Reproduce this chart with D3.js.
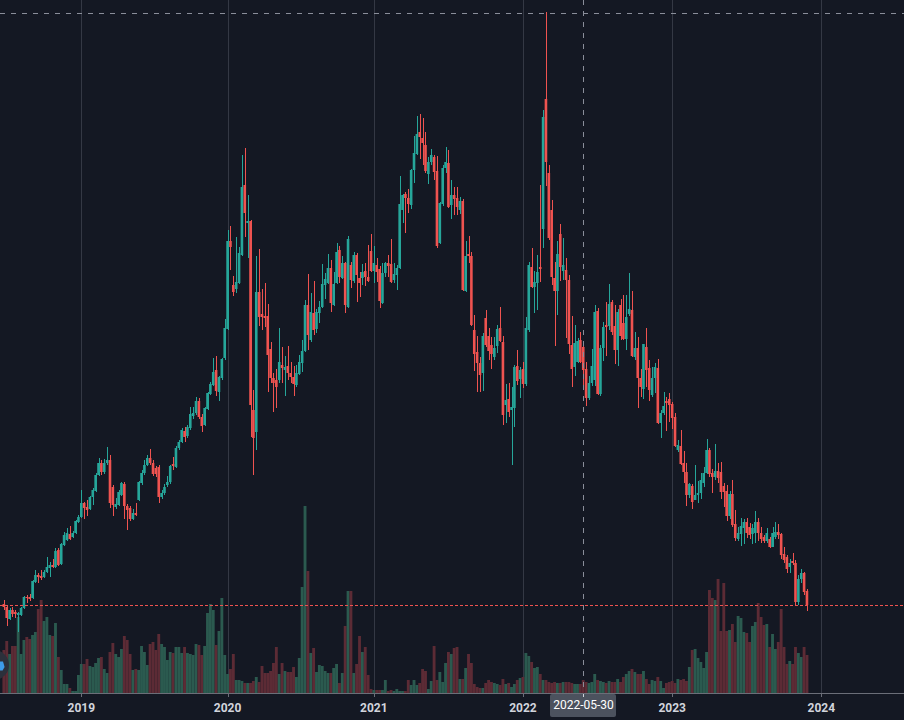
<!DOCTYPE html>
<html><head><meta charset="utf-8">
<script src="https://cdn.jsdelivr.net/npm/d3@7"></script>
<style>html,body{margin:0;padding:0;background:#141823;overflow:hidden}</style>
</head><body><svg id="chart" width="904" height="720"></svg>
<script>
// ---- data (weekly bars) ----
const firstWeek = "2018-07-02";
const closedWeeks = ["2019-02-04", "2020-01-27"];
const yearLabels = ["2019", "2020", "2021", "2022", "2023", "2024"];
const crosshairDate = "2022-05-30";
const crosshairPrice = 687;

const opens = [96,93,81,90,88,85,85,92,103,103,102,118,125,124,123,128,132,135,133,150,136,155,160,166,163,167,178,183,197,193,191,203,209,225,237,228,237,240,213,193,195,205,216,194,192,181,187,200,217,227,235,242,237,232,233,203,207,215,218,236,233,252,258,269,264,272,284,287,299,283,275,291,306,315,330,308,322,342,371,459,415,411,417,445,515,477,479,290,268,408,386,384,384,351,322,320,320,335,330,334,327,323,315,326,337,349,395,360,387,371,387,393,415,417,432,395,417,450,422,437,393,435,419,445,422,422,429,423,449,429,435,431,397,427,437,436,420,425,432,490,506,502,495,530,546,568,562,555,526,538,543,529,457,496,532,537,495,505,502,490,499,409,446,444,370,348,337,327,382,364,355,343,354,372,358,295,301,290,292,334,321,331,316,370,433,413,417,433,471,601,527,490,422,409,466,429,430,420,355,333,338,360,353,331,302,317,320,389,306,352,375,374,398,374,350,395,377,361,386,390,343,352,322,311,353,332,305,322,332,277,287,299,301,296,283,250,254,237,228,205,214,200,205,207,217,227,250,227,223,229,228,214,209,184,206,176,161,166,172,178,173,166,167,178,167,163,159,161,153,163,168,166,146,143,133,139,137,98,121,127,109];
const highs = [100,95,92,93,90,88,93,104,105,106,120,130,127,130,130,143,138,141,152,152,157,168,172,174,169,180,185,210,198,200,204,212,227,242,240,241,253,245,215,202,210,218,218,196,194,191,197,219,230,240,245,251,240,234,235,210,216,224,235,243,254,260,272,273,275,293,293,303,302,286,293,308,318,342,344,324,342,381,470,474,424,463,453,545,552,505,480,310,444,451,411,417,396,358,327,331,372,353,344,354,338,334,335,345,360,400,426,407,419,391,399,436,427,446,440,428,457,454,444,438,464,438,448,447,428,436,437,455,466,454,442,434,437,438,445,461,437,435,524,506,508,511,531,564,584,586,582,568,543,551,545,544,498,535,553,550,520,513,513,503,501,459,464,448,385,364,343,367,390,372,363,363,375,393,364,316,317,313,335,350,333,338,383,438,452,429,445,515,590,688,535,500,438,459,476,462,442,425,384,375,362,368,358,338,324,351,395,392,355,378,398,416,400,395,391,401,405,405,427,409,368,363,331,356,372,340,333,337,341,290,308,303,307,298,287,260,270,249,237,217,216,235,219,227,233,261,252,231,256,237,238,217,215,209,220,190,173,182,181,182,177,176,189,182,173,165,172,163,173,178,176,167,153,145,141,147,140,125,131,128,111];
const lows = [90,74,80,83,82,68,84,91,97,99,101,117,117,120,122,127,123,132,132,134,135,154,159,160,162,166,177,182,181,184,190,195,208,224,225,226,235,192,184,191,194,204,181,170,179,180,184,199,215,225,234,235,224,223,197,201,205,213,216,230,232,250,257,258,262,270,281,285,281,268,274,290,305,314,304,299,320,340,370,430,404,407,416,444,463,442,263,225,250,374,370,373,308,317,288,292,317,317,304,320,317,304,313,325,328,348,350,358,365,367,377,392,401,416,388,394,416,417,421,387,392,412,417,398,403,415,414,418,428,417,418,392,396,423,423,417,417,410,431,477,467,487,491,517,545,541,535,527,516,535,520,452,456,494,527,492,481,485,485,486,409,408,437,374,329,308,308,309,353,340,331,340,347,358,275,277,283,235,273,315,302,312,314,368,412,387,390,418,452,514,460,415,354,385,419,420,362,346,313,324,337,337,314,294,300,314,314,305,304,339,344,370,365,336,334,360,360,350,384,343,340,292,303,301,313,299,303,307,276,262,285,269,278,271,253,248,235,217,194,202,191,200,197,201,213,226,223,207,220,217,201,193,179,181,173,159,159,154,156,162,161,156,157,159,157,157,157,152,153,161,161,141,137,127,127,135,95,95,117,105,89];
const closes = [93,82,90,86,86,87,92,103,102,101,119,125,123,122,128,133,135,133,149,135,156,165,167,161,167,179,183,197,192,190,203,210,225,237,228,237,240,197,195,196,208,217,194,190,181,187,185,218,227,235,242,237,226,226,203,207,213,218,234,234,252,258,270,263,273,286,287,299,283,274,292,307,316,328,309,323,341,372,459,453,408,418,447,513,487,479,295,262,408,383,383,382,345,322,317,313,338,332,333,327,323,316,327,338,349,395,365,388,370,388,393,416,421,432,397,416,448,423,437,395,461,420,445,425,417,428,423,419,429,437,428,399,427,437,434,418,426,432,496,505,502,496,530,547,566,563,557,529,538,545,528,454,497,532,538,493,505,501,493,499,410,444,444,375,346,337,325,364,355,349,346,352,371,359,285,300,288,293,333,319,330,316,372,435,413,418,428,431,583,538,462,423,409,446,433,435,420,356,331,357,359,338,330,302,317,334,388,306,352,373,373,396,368,350,388,364,361,383,391,344,352,322,313,356,330,310,322,333,277,287,294,297,295,282,254,255,236,228,205,216,198,205,207,220,227,250,226,223,229,222,208,208,184,206,175,162,167,174,178,167,165,172,178,167,161,159,167,153,167,168,165,145,140,131,137,137,98,121,127,108,95];
const volumes = [43,52,39,47,47,76,39,53,56,54,58,61,84,93,72,76,58,57,70,36,23,9,9,5,2,2,18,29,29,34,27,26,30,35,36,24,20,41,50,39,36,44,57,53,39,23,24,23,47,41,28,49,51,43,59,49,46,33,41,40,46,46,40,46,40,39,38,49,48,38,47,80,89,83,48,62,95,38,19,24,39,13,13,12,10,10,10,12,16,11,27,20,20,22,30,46,19,30,22,21,21,26,16,35,106,187,122,40,45,21,28,27,22,20,20,25,29,10,20,67,102,102,20,29,57,41,46,18,4,3,3,3,3,13,2,3,2,4,2,2,2,13,8,13,8,10,24,22,4,12,47,13,21,11,30,41,39,45,46,14,14,25,39,30,9,6,5,5,10,13,11,10,9,8,14,9,10,6,9,13,15,16,40,37,31,25,26,19,13,13,11,10,11,10,10,11,11,11,10,9,9,9,13,11,10,11,19,13,12,11,10,12,11,11,14,11,16,19,22,24,21,19,19,22,14,9,13,12,16,12,5,10,11,12,10,14,13,14,12,26,43,44,35,31,25,41,103,95,93,114,62,110,62,63,69,51,77,75,61,60,51,67,71,90,76,68,69,46,59,44,51,84,46,29,32,29,46,40,36,46,38];

// ---- dates (weekly, market-closed weeks skipped) ----
const parse = d3.utcParse("%Y-%m-%d");
const fmt = d3.utcFormat("%Y-%m-%d");
const dates = [];
for (let d = parse(firstWeek); dates.length < closes.length; d = d3.utcWeek.offset(d, 1)) {
  if (!closedWeeks.includes(fmt(d))) dates.push(d);
}
const bars = closes.map((c, i) => ({i, date: dates[i], o: opens[i], h: highs[i], l: lows[i], c, v: volumes[i]}));

// ---- layout ----
const W = 904, H = 720, paneBottom = 693;
const svg = d3.select("#chart");
svg.append("rect").attr("width", W).attr("height", H).attr("fill", "#141823");

// year tick positions as bar indexes (extrapolated past the last bar)
const lastIdx = bars.length - 1;
const yearIdx = yearLabels.map(y => {
  const k = dates.findIndex(d => d.getUTCFullYear() === +y);
  if (k >= 0) return k;
  const firstMon = d3.utcMonday.ceil(new Date(Date.UTC(+y, 0, 1)));
  return lastIdx + d3.utcMonday.count(dates[lastIdx], firstMon);
});

const x = d3.scaleLinear().domain([yearIdx[0], yearIdx[yearIdx.length - 1]]).range([81.3, 821.3]);
const step = x(1) - x(0);
const y = d3.scaleLinear().domain([0, 700]).range([700, 0]);
const yv = d3.scaleLinear().domain([0, d3.max(volumes)]).range([paneBottom, 506]);

const up = "#26a69a", down = "#ef5350";
const volUp = "#2b5a4f", volDown = "#5c2b35";

svg.append("clipPath").attr("id", "pane").append("rect").attr("width", W).attr("height", paneBottom);
const pane = svg.append("g").attr("clip-path", "url(#pane)");

// vertical grid lines
pane.selectAll("line.grid").data(yearIdx).join("line").attr("class", "grid")
  .attr("x1", d => Math.round(x(d)) + 0.5).attr("x2", d => Math.round(x(d)) + 0.5)
  .attr("y1", 0).attr("y2", paneBottom)
  .attr("stroke", "#343844").attr("stroke-width", 1);

// volume histogram
pane.selectAll("rect.vol").data(bars).join("rect").attr("class", "vol")
  .attr("x", d => x(d.i) - step / 2).attr("width", step)
  .attr("y", d => yv(d.v)).attr("height", d => paneBottom - yv(d.v))
  .attr("fill", d => d.c >= d.o ? volUp : volDown);

// candles
pane.selectAll("line.wick").data(bars).join("line").attr("class", "wick")
  .attr("x1", d => Math.round(x(d.i)) + 0.5).attr("x2", d => Math.round(x(d.i)) + 0.5)
  .attr("y1", d => y(Math.max(d.h, d.o, d.c))).attr("y2", d => y(Math.min(d.l, d.o, d.c)))
  .attr("stroke", d => d.c >= d.o ? up : down).attr("stroke-width", 1);
pane.selectAll("rect.body").data(bars).join("rect").attr("class", "body")
  .attr("x", d => x(d.i) - 1.3).attr("width", 2.6)
  .attr("y", d => y(Math.max(d.o, d.c)))
  .attr("height", d => Math.max(1, Math.abs(y(d.o) - y(d.c))))
  .attr("fill", d => d.c >= d.o ? up : down);

// last price line
const lastY = Math.round(y(closes[lastIdx])) + 0.5;
pane.append("line").attr("x1", 0).attr("x2", W).attr("y1", lastY).attr("y2", lastY)
  .attr("stroke", down).attr("stroke-width", 1).attr("stroke-dasharray", "3,2");

// crosshair
const chIdx = dates.findIndex(d => fmt(d) === crosshairDate);
const chX = Math.round(x(chIdx)) + 0.5;
const chY = Math.round(y(crosshairPrice)) + 0.5;
pane.append("line").attr("x1", chX).attr("x2", chX).attr("y1", 0).attr("y2", paneBottom)
  .attr("stroke", "#8a8e9a").attr("stroke-width", 1).attr("stroke-dasharray", "5,6");
pane.append("line").attr("x1", 0).attr("x2", W).attr("y1", chY).attr("y2", chY)
  .attr("stroke", "#8a8e9a").attr("stroke-width", 1).attr("stroke-dasharray", "5,6");

// attribution logo (partly off-canvas)
svg.append("circle").attr("cx", -6).attr("cy", 665).attr("r", 15).attr("fill", "#2c303b");
svg.append("path").attr("d", "M0,661.5 L3,661.5 L4.6,667 L2.6,670.5 L0,670.5 Z").attr("fill", "#3d9be9");

// time axis
svg.append("line").attr("x1", 0).attr("x2", W).attr("y1", paneBottom + 0.5).attr("y2", paneBottom + 0.5)
  .attr("stroke", "#6b6e78").attr("stroke-width", 1);
svg.selectAll("line.tick").data(yearIdx).join("line").attr("class", "tick")
  .attr("x1", d => Math.round(x(d)) + 0.5).attr("x2", d => Math.round(x(d)) + 0.5)
  .attr("y1", paneBottom).attr("y2", paneBottom + 4)
  .attr("stroke", "#6b6e78");
svg.selectAll("text.year").data(yearLabels).join("text").attr("class", "year")
  .attr("x", (d, k) => x(yearIdx[k])).attr("y", 709)
  .attr("text-anchor", "middle").attr("dominant-baseline", "middle")
  .attr("font-family", "Roboto, 'Noto Sans', sans-serif").attr("font-size", 12).attr("font-weight", "bold")
  .attr("fill", "#d1d4dc").text(d => d);

// crosshair time label
const lab = svg.append("g");
lab.append("rect").attr("x", chX - 33.5).attr("y", paneBottom + 1).attr("width", 66).attr("height", 23)
  .attr("rx", 2).attr("fill", "#4c525e");
lab.append("line").attr("x1", chX).attr("x2", chX).attr("y1", paneBottom + 1).attr("y2", paneBottom + 4)
  .attr("stroke", "#d1d4dc");
lab.append("text").attr("x", chX).attr("y", 706).attr("text-anchor", "middle").attr("dominant-baseline", "middle")
  .attr("font-family", "Roboto, 'Noto Sans', sans-serif").attr("font-size", 12).attr("fill", "#ffffff")
  .text(crosshairDate);
</script></body></html>
